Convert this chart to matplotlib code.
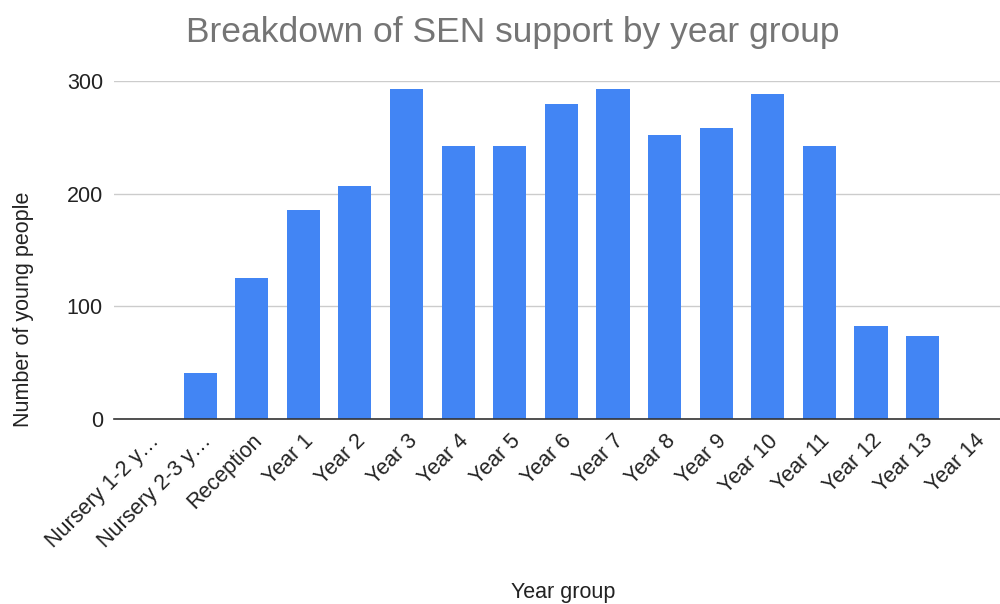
import matplotlib
matplotlib.use("Agg")
import matplotlib.pyplot as plt

categories = ["Nursery 1-2 y…", "Nursery 2-3 y…", "Reception", "Year 1", "Year 2",
              "Year 3", "Year 4", "Year 5", "Year 6", "Year 7", "Year 8", "Year 9",
              "Year 10", "Year 11", "Year 12", "Year 13", "Year 14"]
values = [0, 41, 125, 185, 207, 293, 242, 242, 279, 293, 252, 258, 288, 242, 83, 74, 0]
yticks = [0, 100, 200, 300]

plt.rcParams['font.family'] = ['Liberation Sans', 'DejaVu Sans']

fig = plt.figure(figsize=(10, 6.04), dpi=100)
ax = fig.add_axes([0.114, 0.3058, 0.886, 0.5606])

x = list(range(len(categories)))
ax.bar(x, values, width=0.64, color="#4285f4", zorder=3)

ax.set_xlim(-0.67, len(categories) - 0.5)
ax.set_ylim(0, 300)
ax.set_yticks(yticks)
ax.set_yticklabels([str(t) for t in yticks], fontsize=15.5, color="#222222")
ax.grid(axis="y", color="#cccccc", linewidth=1, zorder=0)
ax.set_axisbelow(True)
for s in ["top", "right", "left"]:
    ax.spines[s].set_visible(False)
ax.spines["bottom"].set_color("#333333")
ax.spines["bottom"].set_linewidth(1.2)
ax.spines["bottom"].set_zorder(4)
ax.tick_params(axis="y", length=0, pad=8)

ax.set_xticks(x)
ax.set_xticklabels(categories, rotation=45, ha="right", rotation_mode="anchor",
                   fontsize=15.5, color="#222222")
ax.tick_params(axis="x", length=0, pad=8)

ax.set_ylabel("Number of young people", fontsize=15.5, color="#222222")
ax.set_xlabel("Year group", fontsize=15.5, color="#222222")
ax.xaxis.set_label_coords(0.507, -0.48)
ax.yaxis.set_label_coords(-0.09, 0.326)

fig.text(0.513, 0.952 - 0.005, "Breakdown of SEN support by year group", ha="center",
         va="center", fontsize=25.5, color="#757575")

fig.savefig("out.png", dpi=100)
